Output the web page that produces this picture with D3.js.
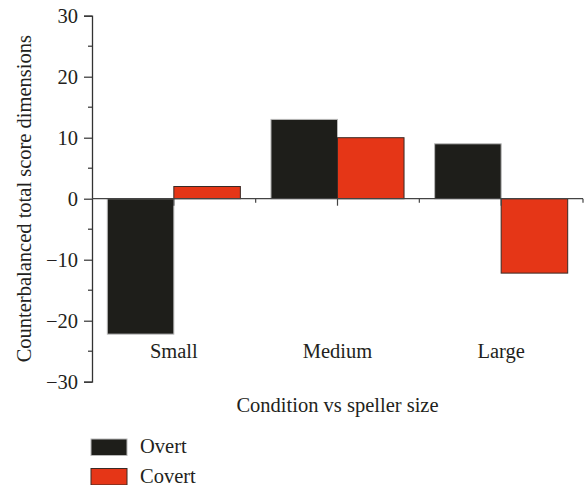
<!DOCTYPE html>
<html><head><meta charset="utf-8">
<script src="https://cdn.jsdelivr.net/npm/d3@7"></script>
<style>body{margin:0;background:#fff}</style>
</head><body>
<svg id="c" width="585" height="485"></svg>
<script>
const categories = ["Small", "Medium", "Large"];
const seriesNames = ["Overt", "Covert"];
const overt = [-22.2, 13, 9];
const covert = [2, 10, -12.2];
const yTicks = [-30, -20, -10, 0, 10, 20, 30];
const colors = ["#1e1e1a", "#e53617"];
const strokes = ["#b8b8b8", "#3a2a25"];

(function(){
const svg = d3.select("#c");
const font = "'Liberation Serif', 'Times New Roman', serif";
const textColor = "#231f20";
const fs = 20.5;
const mLeft = 92, mRight = 583, mTop = 15.7, mBottom = 381.7;

const y = d3.scaleLinear().domain([-30, 30]).range([mBottom, mTop]);
const x = d3.scaleBand().domain(categories).range([mLeft, mRight]).paddingInner(0).paddingOuter(0);
const inner = d3.scaleBand().domain(seriesNames).range([0, x.bandwidth()]).paddingOuter(0.23).paddingInner(0);

const data = categories.map((c, i) => ({cat: c, vals: [overt[i], covert[i]]}));

const g = svg.append("g");
data.forEach(d => {
  d.vals.forEach((v, j) => {
    const x0 = x(d.cat) + inner(seriesNames[j]);
    g.append("rect")
      .attr("x", x0)
      .attr("y", Math.min(y(v), y(0)))
      .attr("width", inner.bandwidth())
      .attr("height", Math.abs(y(v) - y(0)))
      .attr("fill", colors[j])
      .attr("stroke", strokes[j])
      .attr("stroke-width", 1);
  });
});

const yAxis = d3.axisLeft(y).tickValues(yTicks).tickSize(8).tickPadding(6)
  .tickFormat(d => d < 0 ? "\u2212" + Math.abs(d) : d);
const ya = svg.append("g").attr("transform", `translate(${mLeft},0)`).call(yAxis);
ya.select(".domain").attr("stroke", "#333").attr("stroke-width", 1.3);
ya.selectAll(".tick line").attr("stroke", "#333").attr("stroke-width", 1.2);
ya.selectAll("text").attr("font-family", font).attr("font-size", fs).attr("fill", textColor);
const minor = d3.range(-25, 30, 10);
svg.append("g").selectAll("line").data(minor).join("line")
  .attr("x1", mLeft - 4).attr("x2", mLeft)
  .attr("y1", d => y(d)).attr("y2", d => y(d))
  .attr("stroke", "#333").attr("stroke-width", 1.2);

svg.append("line").attr("x1", mLeft).attr("x2", mRight).attr("y1", y(0)).attr("y2", y(0))
  .attr("stroke", "#444").attr("stroke-width", 1.3);
const edges = categories.map(c => x(c) + x.bandwidth());
svg.append("g").selectAll("line").data(edges).join("line")
  .attr("x1", d => d).attr("x2", d => d).attr("y1", y(0)).attr("y2", y(0) + 4)
  .attr("stroke", "#444").attr("stroke-width", 1.2);
svg.append("g").selectAll("line").data(categories).join("line")
  .attr("x1", d => x(d) + x.bandwidth() / 2).attr("x2", d => x(d) + x.bandwidth() / 2)
  .attr("y1", y(0)).attr("y2", y(0) + 7)
  .attr("stroke", "#444").attr("stroke-width", 1.2);

svg.append("g").selectAll("text").data(categories).join("text")
  .attr("x", d => x(d) + x.bandwidth() / 2).attr("y", 358)
  .attr("text-anchor", "middle").attr("font-family", font).attr("font-size", fs)
  .attr("fill", textColor).text(d => d);

svg.append("text").attr("x", (mLeft + mRight) / 2).attr("y", 412)
  .attr("text-anchor", "middle").attr("font-family", font).attr("font-size", fs)
  .attr("fill", textColor).text("Condition vs speller size");
svg.append("text").attr("transform", `translate(31,${(mTop + mBottom) / 2}) rotate(-90)`)
  .attr("text-anchor", "middle").attr("font-family", font).attr("font-size", fs)
  .attr("fill", textColor).text("Counterbalanced total score dimensions");

const lg = svg.append("g");
seriesNames.forEach((s, j) => {
  const yy = 439 + j * 29.5;
  lg.append("rect").attr("x", 91).attr("y", yy).attr("width", 36).attr("height", 16.5)
    .attr("fill", colors[j]).attr("stroke", strokes[j]).attr("stroke-width", 1);
  lg.append("text").attr("x", 140).attr("y", yy + 14).attr("font-family", font)
    .attr("font-size", fs).attr("fill", textColor).text(s);
});
})();
</script>
</body></html>
